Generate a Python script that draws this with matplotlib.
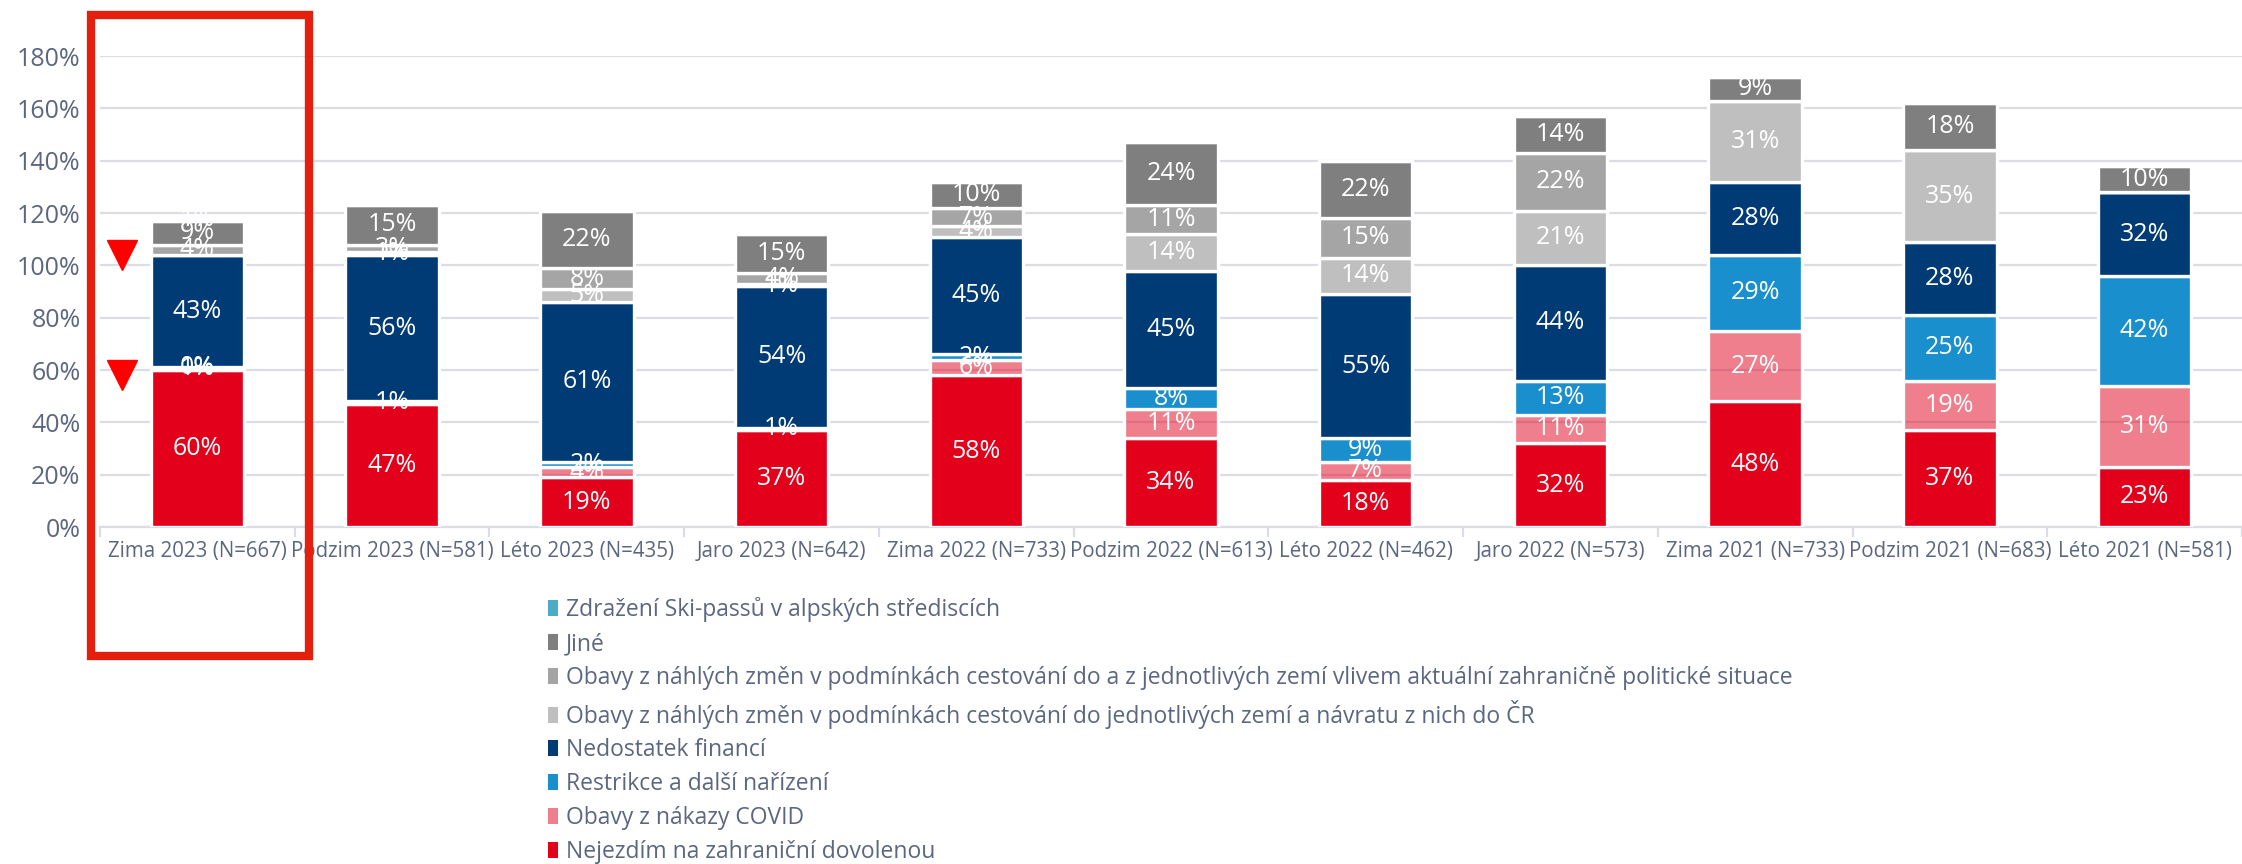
import numpy as np
import matplotlib.pyplot as plt
from matplotlib.patches import Patch, Rectangle
from matplotlib.ticker import FuncFormatter, FixedLocator

plt.rcParams['font.family'] = ['Open Sans', 'DejaVu Sans']

categories = ['Zima 2023 (N=667)', 'Podzim 2023 (N=581)', 'Léto 2023 (N=435)', 'Jaro 2023 (N=642)',
              'Zima 2022 (N=733)', 'Podzim 2022 (N=613)', 'Léto 2022 (N=462)', 'Jaro 2022 (N=573)',
              'Zima 2021 (N=733)', 'Podzim 2021 (N=683)', 'Léto 2021 (N=581)']

# series, bottom to top (None = category not asked in that wave)
nejezdim = [60, 47, 19, 37, 58, 34, 18, 32, 48, 37, 23]
covid = [1, 1, 4, 1, 6, 11, 7, 11, 27, 19, 31]
restrikce = [0, None, 2, None, 2, 8, 9, 13, 29, 25, 42]
financi = [43, 56, 61, 54, 45, 45, 55, 44, 28, 28, 32]
navrat = [None, 1, 5, 1, 4, 14, 14, 21, 31, 35, None]
politicka = [4, 3, 8, 4, 7, 11, 15, 22, None, None, None]
jine = [9, 15, 22, 15, 10, 24, 22, 14, 9, 18, 10]
skipass = [1, None, None, None, None, None, None, None, None, None, None]

series = [
    ('Nejezdím na zahraniční dovolenou', nejezdim, '#E3001B'),
    ('Obavy z nákazy COVID', covid, (0.89, 0.0, 0.11, 0.5)),
    ('Restrikce a další nařízení', restrikce, '#1A8FCE'),
    ('Nedostatek financí', financi, '#003B76'),
    ('Obavy z náhlých změn v podmínkách cestování do jednotlivých zemí a návratu z nich do ČR', navrat, '#BFBFBF'),
    ('Obavy z náhlých změn v podmínkách cestování do a z jednotlivých zemí vlivem aktuální zahraničně politické situace', politicka, '#A5A5A5'),
    ('Jiné', jine, '#7F7F7F'),
    ('Zdražení Ski-passů v alpských střediscích', skipass, '#4BACC6'),
]

txt_col = '#5B6680'
grid_col = '#DCDCE4'

fig = plt.figure(figsize=(22.42, 8.64), dpi=100)
ax = fig.add_axes([0.0446, 0.390, 0.9554, 0.545])

x = np.arange(len(categories))
bottom = np.zeros(len(categories))
handles = []
for name, vals, col in series:
    v = np.array([np.nan if a is None else a for a in vals], dtype=float)
    h = np.nan_to_num(v)
    bars = ax.bar(x, h, 0.48, bottom=bottom, color=col, edgecolor='white', linewidth=2.4, zorder=3)
    labels = ['' if np.isnan(a) else f'{a:.0f}%' for a in v]
    ax.bar_label(bars, labels=labels, label_type='center', color='white', fontsize=18, zorder=4)
    bottom += h
    handles.append(Patch(facecolor=col, edgecolor='none', label=name))

ax.set_xlim(-0.5, len(categories) - 0.5)
ax.set_ylim(0, 180)
ax.yaxis.set_major_locator(FixedLocator(np.arange(0, 181, 20)))
ax.yaxis.set_major_formatter(FuncFormatter(lambda v, p: f'{v:.0f}%'))
ax.grid(axis='y', color=grid_col, linewidth=1.6, zorder=0)
ax.set_axisbelow(True)
for s in ['top', 'right', 'left']:
    ax.spines[s].set_visible(False)
ax.spines['bottom'].set_color(grid_col)
ax.spines['bottom'].set_linewidth(1.6)
ax.tick_params(axis='y', length=0, labelsize=18, labelcolor=txt_col, pad=14)
ax.set_xticks(x)
ax.set_xticklabels(categories)
ax.tick_params(axis='x', length=0, labelsize=14.8, labelcolor=txt_col, pad=10)
ax.set_xticks(np.arange(-0.5, len(categories), 1), minor=True)
ax.tick_params(axis='x', which='minor', length=7, width=1.6, color=grid_col)

# highlight markers for the latest wave
ax.plot([-0.387, -0.387], [104, 58], linestyle='none', marker='v', markersize=22,
        color='#FF0000', clip_on=False, zorder=5)

fig.patches.append(Rectangle((91 / 2242, 1 - 656 / 864), 218 / 2242, 641 / 864,
                             transform=fig.transFigure, fill=False, edgecolor='#E3200E',
                             linewidth=6, zorder=10))

fig.legend(handles=handles[::-1], loc='upper left', bbox_to_anchor=(0.2444, 0.309),
           frameon=False, fontsize=16.5, labelcolor=txt_col, handlelength=0.45, handleheight=0.7,
           handletextpad=0.35, labelspacing=0.43, borderpad=0, borderaxespad=0)

fig.savefig('out.png', dpi=100)
